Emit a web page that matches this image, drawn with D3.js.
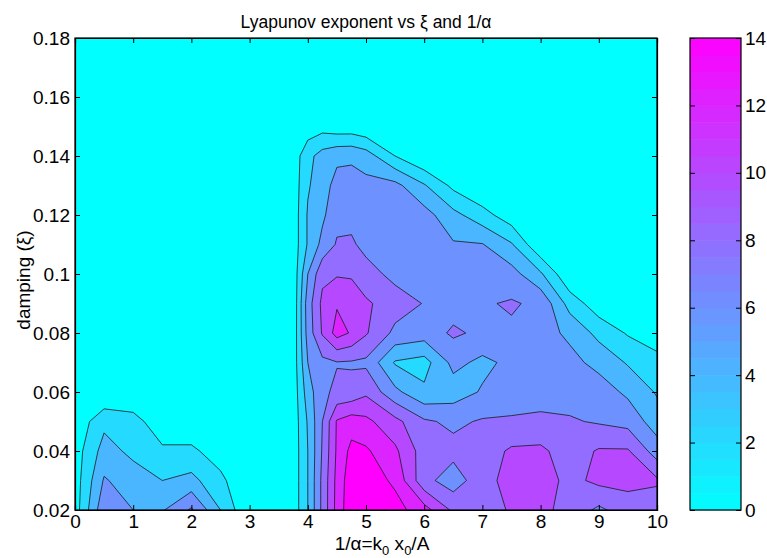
<!DOCTYPE html>
<html>
<head>
<meta charset="utf-8">
<script src="https://cdn.jsdelivr.net/npm/d3@7"></script>
<style>
  body { margin: 0; background: #fff; }
  text { font-family: "Liberation Sans", Arial, Helvetica, sans-serif; fill: #000; }
</style>
</head>
<body>
<svg id="chart" width="767" height="558"></svg>
<script>
// grid of 1/alpha (columns) and damping (rows)
const xGrid = [0, 0.5, 1, 1.5, 2, 2.5, 3, 3.5, 3.75, 4, 4.25, 4.5, 4.75, 5, 5.5, 6, 6.5, 7, 7.5, 8, 8.5, 9, 9.5, 10];
const yGrid = [0.02, 0.03, 0.04, 0.05, 0.06, 0.07, 0.08, 0.09, 0.10, 0.11, 0.12, 0.13, 0.14, 0.15, 0.16, 0.17, 0.18];

// Lyapunov exponent, one row per damping value
const lyapunov = [
  [1, 7.5, 6, 5.8, 8.3, 4, 0, 0, 0.8, 4.0, 8.5, 12.7, 15.5, 15.6, 14.8, 12.8, 9.6, 8.3, 10.4, 10.6, 9.2, 7.6, 9.0, 8.8],
  [1, 6.2, 5, 4, 4.6, 2.5, 0, 0, 0.8, 4.0, 8.5, 12.6, 15.3, 15.2, 13.6, 8.6, 7.0, 9.2, 10.8, 11.0, 9.4, 10.5, 10.6, 10.3],
  [1, 4.8, 3.5, 2.4, 2.4, 1, 0, 0, 0.8, 4.0, 8.2, 12.3, 14.6, 14.3, 12.4, 9.0, 8.6, 9.0, 10.3, 10.4, 9.0, 10.2, 10.2, 7.0],
  [0.5, 3.5, 2.9, 0.5, 0.5, 0, 0, 0, 0.8, 4.2, 8.0, 12.2, 13.0, 12.5, 10.6, 8.3, 7.6, 8.2, 8.3, 8.5, 8.2, 7.8, 7.3, 5.0],
  [0, 0, 0, 0, 0, 0, 0, 0, 0.8, 5.0, 7.6, 8.4, 8.6, 9.6, 6.5, 4.4, 5.0, 6.2, 6.8, 7.0, 7.2, 7.0, 5.6, 3.8],
  [0, 0, 0, 0, 0, 0, 0, 0, 0.8, 6.0, 7.5, 7.9, 7.8, 7.6, 3.8, 3.2, 6.6, 5.5, 6.5, 7.0, 6.6, 5.4, 3.8, 2.6],
  [0, 0, 0, 0, 0, 0, 0, 0, 0.6, 6.8, 10.2, 12.8, 11.8, 10.2, 7.5, 7.0, 8.3, 7.6, 7.7, 6.8, 5.6, 3.4, 1.8, 1.0],
  [0, 0, 0, 0, 0, 0, 0, 0, 0.5, 7.0, 10.5, 11.8, 11.5, 10.3, 9.0, 7.9, 7.2, 7.8, 8.2, 7.6, 3.2, 0.8, 0, 0],
  [0, 0, 0, 0, 0, 0, 0, 0, 0.6, 6.0, 9.5, 9.8, 9.7, 8.8, 7.4, 7.2, 6.6, 6.8, 6.8, 4.3, 0.2, 0, 0, 0],
  [0, 0, 0, 0, 0, 0, 0, 0, 0.8, 4.2, 6.6, 8.2, 8.3, 7.4, 7.0, 7.0, 6.2, 6.1, 4.2, 0.2, 0, 0, 0, 0],
  [0, 0, 0, 0, 0, 0, 0, 0, 0.8, 4.2, 5.6, 7.4, 7.4, 7.0, 6.8, 6.8, 4.6, 2.8, 0.8, 0, 0, 0, 0, 0],
  [0, 0, 0, 0, 0, 0, 0, 0, 0.8, 3.8, 5.0, 6.8, 6.9, 6.6, 6.6, 4.2, 1.5, 0, 0, 0, 0, 0, 0, 0],
  [0, 0, 0, 0, 0, 0, 0, 0, 0.8, 3.4, 4.8, 5.5, 5.6, 5.0, 2.0, 0, 0, 0, 0, 0, 0, 0, 0, 0],
  [0, 0, 0, 0, 0, 0, 0, 0, 0, 0.8, 1.2, 0.8, 0.8, 0.3, 0, 0, 0, 0, 0, 0, 0, 0, 0, 0],
  [0, 0, 0, 0, 0, 0, 0, 0, 0, 0, 0, 0, 0, 0, 0, 0, 0, 0, 0, 0, 0, 0, 0, 0],
  [0, 0, 0, 0, 0, 0, 0, 0, 0, 0, 0, 0, 0, 0, 0, 0, 0, 0, 0, 0, 0, 0, 0, 0],
  [0, 0, 0, 0, 0, 0, 0, 0, 0, 0, 0, 0, 0, 0, 0, 0, 0, 0, 0, 0, 0, 0, 0, 0]
];

const levels = [2, 4, 6, 8, 10, 12, 14];
const xTicks = [0, 1, 2, 3, 4, 5, 6, 7, 8, 9, 10];
const yTicks = [0.02, 0.04, 0.06, 0.08, 0.1, 0.12, 0.14, 0.16, 0.18];
const cbTicks = [0, 2, 4, 6, 8, 10, 12, 14];

const svg = d3.select("#chart");

// plot box
const pL = 75, pR = 657, pT = 38, pB = 510;
const x = d3.scaleLinear().domain([0, 10]).range([pL, pR]);
const y = d3.scaleLinear().domain([0.02, 0.18]).range([pB, pT]);

// "cool" colormap
const color = d3.scaleLinear().domain([0, 14]).range(["#00ffff", "#ff00ff"]);

// grid index -> data value (grid is not evenly spaced in x)
const ix = d3.scaleLinear().domain(d3.range(xGrid.length)).range(xGrid);
const iy = d3.scaleLinear().domain(d3.range(yGrid.length)).range(yGrid);

const nx = xGrid.length, ny = yGrid.length;
const values = lyapunov.flat();

const contours = d3.contours().size([nx, ny]).thresholds(levels)(values);

const proj = d3.geoTransform({
  point: function (px, py) {
    this.stream.point(x(ix(px - 0.5)), y(iy(py - 0.5)));
  }
});
const path = d3.geoPath(proj);

svg.append("clipPath").attr("id", "clip")
  .append("rect")
  .attr("x", pL).attr("y", pT)
  .attr("width", pR - pL).attr("height", pB - pT);

const plot = svg.append("g").attr("clip-path", "url(#clip)");

plot.append("rect")
  .attr("x", pL).attr("y", pT)
  .attr("width", pR - pL).attr("height", pB - pT)
  .attr("fill", color(0));

plot.selectAll("path.band")
  .data(contours)
  .join("path")
  .attr("class", "band")
  .attr("d", path)
  .attr("fill", d => color(d.value))
  .attr("stroke", "#1a1a1a")
  .attr("stroke-width", 0.8)
  .attr("stroke-linejoin", "round");

// axes with inward ticks, MATLAB style
const fontSize = 19;
const fontFamily = '"Liberation Sans", Arial, sans-serif';

svg.append("g")
  .attr("transform", `translate(0,${pB})`)
  .call(d3.axisBottom(x).tickValues(xTicks).tickSize(-5).tickPadding(5).tickFormat(d3.format("d")));
svg.append("g")
  .attr("transform", `translate(0,${pT})`)
  .call(d3.axisTop(x).tickValues(xTicks).tickSize(-5).tickFormat(""));

svg.append("g")
  .attr("transform", `translate(${pL},0)`)
  .call(d3.axisLeft(y).tickValues(yTicks).tickSize(-5).tickPadding(5).tickFormat(d => String(+d.toFixed(2))));
svg.append("g")
  .attr("transform", `translate(${pR},0)`)
  .call(d3.axisRight(y).tickValues(yTicks).tickSize(-5).tickFormat(""));

svg.selectAll(".domain").attr("stroke", "#000").attr("stroke-width", 1.2);
svg.selectAll(".tick line").attr("stroke", "#000");
svg.selectAll(".tick text").attr("font-size", fontSize).style("font-family", fontFamily);

// box
svg.append("rect")
  .attr("x", pL).attr("y", pT)
  .attr("width", pR - pL).attr("height", pB - pT)
  .attr("fill", "none").attr("stroke", "#000").attr("stroke-width", 1.2);

// title
svg.append("text")
  .attr("x", (pL + pR) / 2).attr("y", 28)
  .attr("text-anchor", "middle")
  .attr("font-size", 17.5)
  .text("Lyapunov exponent vs ξ and 1/α");

// x label with subscripts
const xl = svg.append("text")
  .attr("x", 382).attr("y", 550)
  .attr("text-anchor", "middle")
  .attr("font-size", fontSize);
xl.append("tspan").text("1/α=k");
xl.append("tspan").attr("font-size", 13).attr("dy", 5).text("0");
xl.append("tspan").attr("dy", -5).text(" x");
xl.append("tspan").attr("font-size", 13).attr("dy", 5).text("0");
xl.append("tspan").attr("dy", -5).text("/A");

// y label
svg.append("text")
  .attr("transform", `translate(30,${(pT + pB) / 2 + 6}) rotate(-90)`)
  .attr("text-anchor", "middle")
  .attr("font-size", fontSize)
  .text("damping (ξ)");

// colorbar
const cbLeft = 690, cbRight = 741;
const cy = d3.scaleLinear().domain([0, 14]).range([pB, pT]);
const cbSteps = d3.range(0, 14, 0.5);

svg.append("g").selectAll("rect")
  .data(cbSteps)
  .join("rect")
  .attr("x", cbLeft)
  .attr("y", d => cy(d + 0.5))
  .attr("width", cbRight - cbLeft)
  .attr("height", d => cy(d) - cy(d + 0.5) + 0.5)
  .attr("fill", d => color(d + 0.25));

svg.append("g")
  .attr("transform", `translate(${cbRight},0)`)
  .call(d3.axisRight(cy).tickValues(cbTicks).tickSize(-5).tickPadding(4).tickFormat(d3.format("d")))
  .call(g => g.select(".domain").remove())
  .call(g => g.selectAll(".tick line").attr("stroke", "#000"))
  .call(g => g.selectAll(".tick text").attr("font-size", fontSize).style("font-family", fontFamily));
svg.append("g")
  .attr("transform", `translate(${cbLeft},0)`)
  .call(d3.axisLeft(cy).tickValues(cbTicks).tickSize(-5).tickFormat(""))
  .call(g => g.select(".domain").remove())
  .call(g => g.selectAll(".tick line").attr("stroke", "#000"));

svg.append("rect")
  .attr("x", cbLeft).attr("y", pT)
  .attr("width", cbRight - cbLeft).attr("height", pB - pT)
  .attr("fill", "none").attr("stroke", "#000").attr("stroke-width", 1.2);
</script>
</body>
</html>
